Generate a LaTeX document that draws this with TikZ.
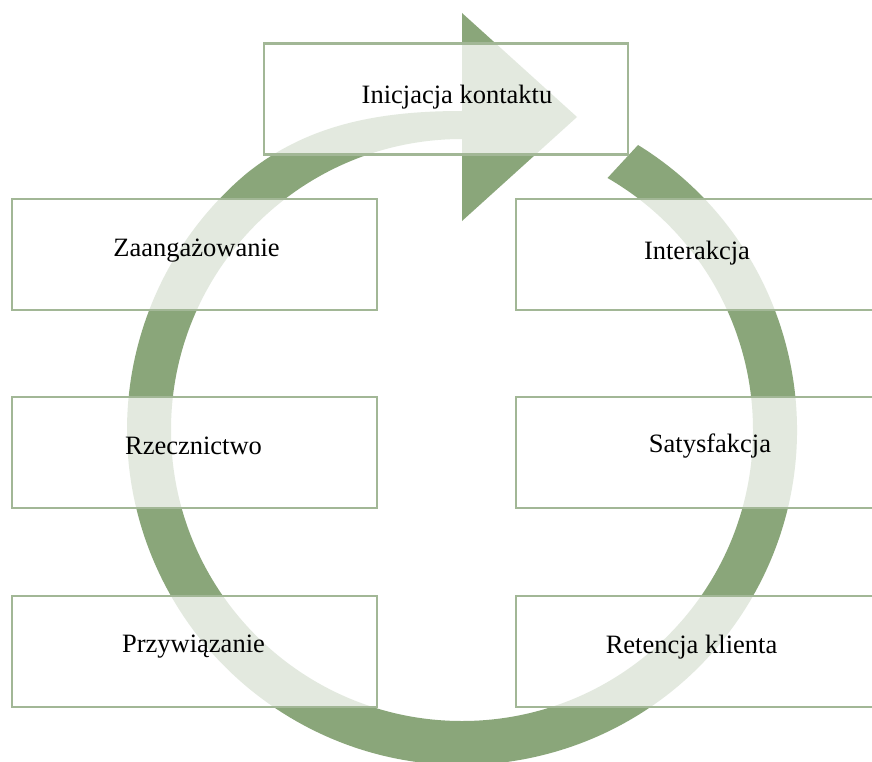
\documentclass[tikz,border=0pt]{standalone}
\usepackage{fontspec}
\setmainfont{Liberation Serif}
\definecolor{ringgreen}{HTML}{8AA67A}
\definecolor{boxline}{HTML}{A2B796}
\tikzset{
  stagebox/.style={rectangle, draw=boxline, line width=2.8pt, fill=white,
    fill opacity=0.76, inner sep=0pt, minimum height=111pt},
  sidebox/.style={stagebox, minimum width=365pt},
  stagelabel/.style={anchor=base, inner sep=0pt, text=black,
    font=\fontsize{26.5}{30}\selectfont},
}
\begin{document}
\begin{tikzpicture}[x=1pt, y=-1pt]
  \clip (0,0) rectangle (872,762);
  \fill[white] (0,0) rectangle (872,762);

  % circular arrow: band from the tail at the upper right, clockwise to the head at the top;
  % the outer edge narrows just before the head
  \coordinate (c) at (462,430);
  \fill[ringgreen]
    ([shift={(c)}]-58.3:335) arc[start angle=-58.3, end angle=230, radius=335]
    .. controls (308,124) and (380,111) .. (462,111)
    -- (462,13) -- (577,117) -- (462,221)
    -- ([shift={(c)}]270:291) arc[start angle=270, end angle=-60, radius=291]
    -- cycle;

  % stage boxes
  \node[stagebox, minimum width=364pt] (contact)  at (446,99)    {};
  \node[sidebox] (engage)   at (194.5,254.5) {};
  \node[sidebox] (advocacy) at (194.5,452.5) {};
  \node[sidebox] (loyalty)  at (194.5,651.5) {};
  \node[sidebox] (interact) at (698.5,254.5) {};
  \node[sidebox] (satisf)   at (698.5,452.5) {};
  \node[sidebox] (retain)   at (698.5,651.5) {};

  % labels
  \node[stagelabel] (tcontact)  at (457,104)   {Inicjacja kontaktu};
  \node[stagelabel] (tengage)   at (196.5,256) {Zaangażowanie};
  \node[stagelabel] (tadvocacy) at (193.5,454) {Rzecznictwo};
  \node[stagelabel] (tloyalty)  at (193.5,652) {Przywiązanie};
  \node[stagelabel] (tinteract) at (697,259)   {Interakcja};
  \node[stagelabel] (tsatisf)   at (710,452)   {Satysfakcja};
  \node[stagelabel] (tretain)   at (691.5,653) {Retencja klienta};
\end{tikzpicture}
\end{document}
